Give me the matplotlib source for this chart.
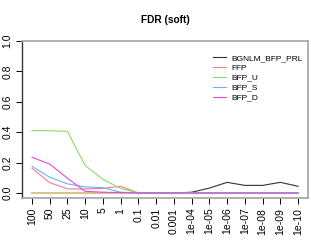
import numpy as np
import matplotlib
matplotlib.use('Agg')
import matplotlib.pyplot as plt

plt.rcParams['font.family'] = ['Liberation Sans', 'DejaVu Sans']

#1.) data
thresholds = ['100', '50', '25', '10', '5', '1', '0.1', '0.01', '0.001',
              '1e-04', '1e-05', '1e-06', '1e-07', '1e-08', '1e-09', '1e-10']

bgnlm_base = [0, 0, 0, 0, 0, 0, 0]
bgnlm_prl = [0, 0, 0, 0, 0, 0, 0, 0, 0, 0.005, 0.032, 0.07, 0.05, 0.05, 0.07, 0.044]
ffp   = [0.162, 0.068, 0.027, 0.027, 0.030, 0.044, 0, 0, 0, 0, 0, 0, 0, 0, 0, 0]
bfp_u = [0.41, 0.41, 0.405, 0.18, 0.09, 0.03, 0, 0, 0, 0, 0, 0, 0, 0, 0, 0]
bfp_s = [0.175, 0.103, 0.06, 0.04, 0.035, 0.005, 0, 0, 0, 0, 0, 0, 0, 0, 0, 0]
bfp_d = [0.235, 0.19, 0.097, 0.011, 0.005, 0.003, 0, 0, 0, 0, 0, 0, 0, 0, 0, 0]

series = [('FFP', ffp, '#F0808C'),
          ('BFP_U', bfp_u, '#8ED86A'),
          ('BFP_S', bfp_s, '#6CB4F5'),
          ('BFP_D', bfp_d, '#E048DC')]

#2.) figure
fig = plt.figure(figsize=(3.11, 2.5), dpi=100)
ax = fig.add_axes([22/311, 1-198/250, 286/311, 157/250])

x = np.arange(len(thresholds))
ax.plot(x, bgnlm_prl, color='#333333', lw=0.8, label='BGNLM_BFP_PRL')
ax.plot(x[:len(bgnlm_base)], bgnlm_base, color='#EDD28A', lw=1.2)
for label, vals, col in series:
    ax.plot(x, vals, color=col, lw=0.8, label=label)

ax.set_xlim(-0.564, 15.56)
ax.set_ylim(-0.033, 1.0)

ax.set_xticks(x)
ax.set_xticklabels(thresholds, rotation=90, fontsize=7.5)
ax.set_yticks([0, 0.2, 0.4, 0.6, 0.8, 1.0])
ax.set_yticklabels(['0.0', '0.2', '0.4', '0.6', '0.8', '1.0'], rotation=90,
                   va='center', fontsize=7.5)
ax.tick_params(axis='x', length=4, width=0.7, pad=3)
ax.tick_params(axis='y', length=4, width=0.7, pad=3)

for side in ['top', 'right', 'bottom']:
    ax.spines[side].set_color('#AAAAAA')
    ax.spines[side].set_linewidth(1.3)
ax.spines['left'].set_color('#333333')
ax.spines['left'].set_linewidth(1.0)

fig.text(165/311, 1-20/250, 'FDR (soft)', ha='center', va='center',
         fontsize=7.3, fontweight='bold')

legend = ax.legend(loc='upper left', bbox_to_anchor=(213/311, 1-54/250),
                   bbox_transform=fig.transFigure, frameon=False, fontsize=6,
                   handlelength=1.6, handletextpad=0.6, labelspacing=0.25,
                   borderpad=0, borderaxespad=0)

plt.savefig('out.png', dpi=100)
